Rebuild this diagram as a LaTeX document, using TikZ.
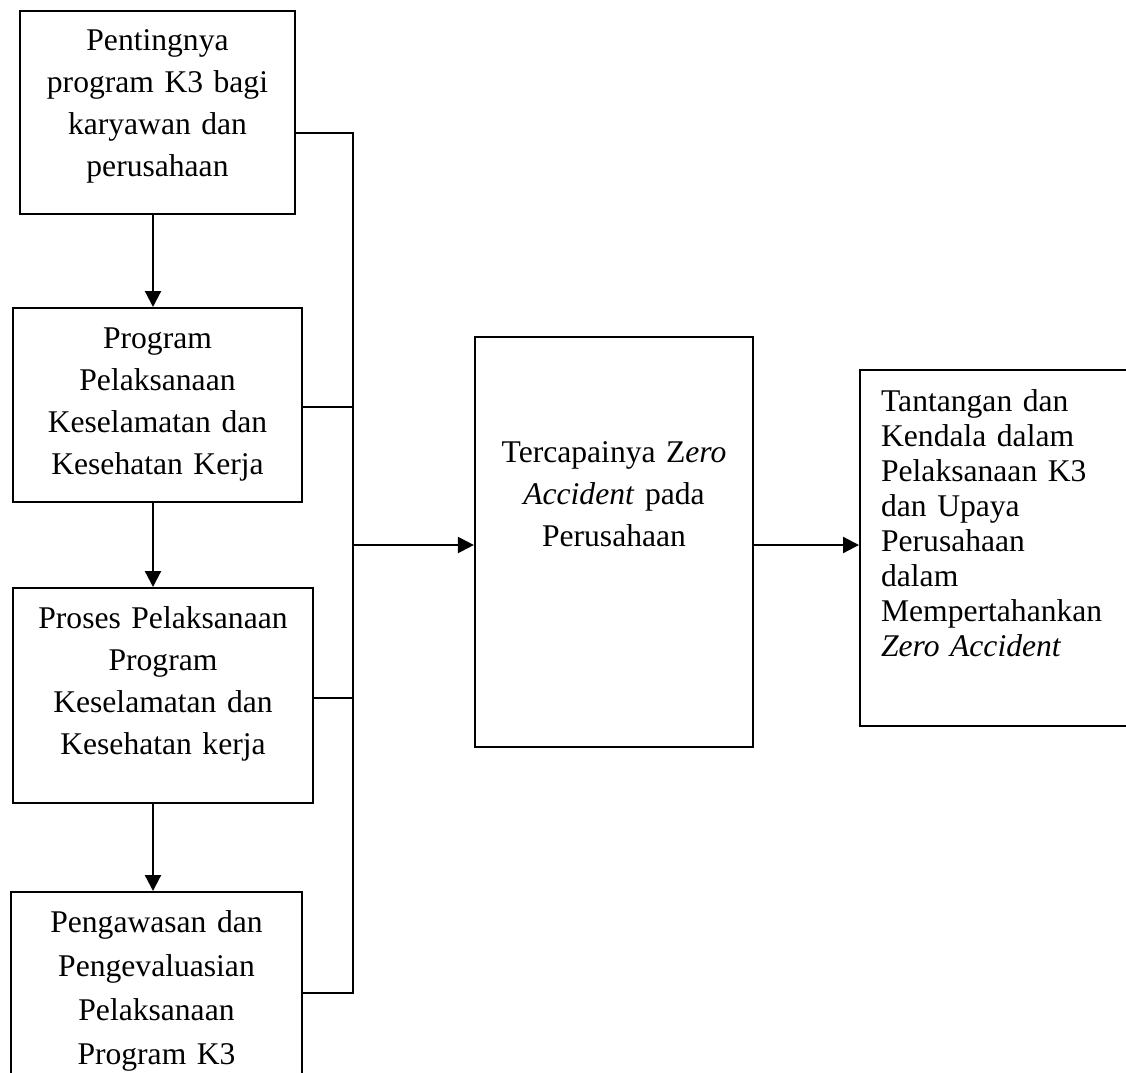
\documentclass[tikz,border=0pt]{standalone}
\usepackage{fontspec}
\setmainfont{Liberation Serif}
\usetikzlibrary{arrows.meta}

\begin{document}
\begin{tikzpicture}[x=1pt,y=-1pt,
    kotak/.style={draw,line width=2.2pt,inner xsep=0pt,inner ysep=0pt,align=center,
      font=\fontsize{31.6}{42}\selectfont},
    panah/.style={line width=2.2pt,-{Triangle[length=16pt,width=16pt]}},
    garis/.style={line width=2.2pt}]
  \path[use as bounding box,clip] (0,0) rectangle (1126,1072);

  \node[kotak,anchor=north,text width=275pt,text height=39pt,text depth=164pt]
    (penting) at (157.5,10) {Pentingnya\\program K3 bagi\\karyawan dan\\perusahaan};
  \node[kotak,anchor=north,text width=289pt,text height=40pt,text depth=154pt]
    (program) at (157.5,307) {Program\\Pelaksanaan\\Keselamatan dan\\Kesehatan Kerja};
  \node[kotak,anchor=north,text width=300pt,text height=40pt,text depth=175pt]
    (proses) at (163,587) {Proses Pelaksanaan\\Program\\Keselamatan dan\\Kesehatan kerja};
  \node[kotak,anchor=north,text width=291pt,text height=40pt,text depth=160pt,
    font=\fontsize{31.6}{44}\selectfont]
    (pengawasan) at (156.5,891) {Pengawasan dan\\Pengevaluasian\\Pelaksanaan\\Program K3};

  \node[kotak,anchor=north,text width=278pt,text height=125pt,text depth=285pt]
    (zero) at (614,336) {Tercapainya Z\textit{ero}\\\textit{Accident} pada\\Perusahaan};
  \node[kotak,anchor=north west,align=left,inner xsep=21pt,text width=260pt,
    text height=41pt,text depth=315pt,font=\fontsize{31.6}{35}\selectfont]
    (tantangan) at (859,369) {Tantangan dan\\Kendala dalam\\Pelaksanaan K3\\dan Upaya\\Perusahaan\\dalam\\Mempertahankan\\\textit{Zero Accident}};

  \coordinate (spine) at (153,0);
  \coordinate (j1) at (353,133);
  \coordinate (j2) at (353,407);
  \coordinate (j3) at (353,698);
  \coordinate (j4) at (353,993);
  \coordinate (jm) at (353,545);

  \draw[panah] (penting.south -| spine) -- (program.north -| spine);
  \draw[panah] (program.south -| spine) -- (proses.north -| spine);
  \draw[panah] (proses.south -| spine) -- (pengawasan.north -| spine);

  \draw[garis] (penting.east |- j1) -- (j1) -- (j4) -- (pengawasan.east |- j4);
  \draw[garis] (program.east |- j2) -- (j2);
  \draw[garis] (proses.east |- j3) -- (j3);

  \draw[panah] (jm) -- (zero.west |- jm);
  \draw[panah] (zero.east |- jm) -- (tantangan.west |- jm);
\end{tikzpicture}
\end{document}
